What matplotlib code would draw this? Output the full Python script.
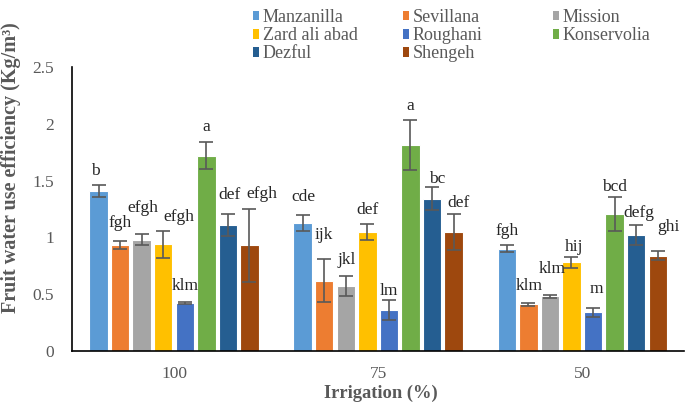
import numpy as np
import matplotlib
matplotlib.use("Agg")
import matplotlib.pyplot as plt
from matplotlib.patches import Patch

plt.rcParams["font.family"] = ["Liberation Serif", "DejaVu Serif"]

# data
groups = ["100", "75", "50"]
cultivars = ["Manzanilla", "Sevillana", "Mission", "Zard ali abad",
             "Roughani", "Konservolia", "Dezful", "Shengeh"]
wue = [
    [1.41, 0.93, 0.98, 0.94, 0.42, 1.72, 1.11, 0.93],   # 100
    [1.13, 0.62, 0.57, 1.05, 0.36, 1.81, 1.34, 1.05],   # 75
    [0.90, 0.41, 0.48, 0.78, 0.34, 1.21, 1.02, 0.84],   # 50
]
err = [
    [0.05, 0.035, 0.05, 0.12, 0.01, 0.12, 0.10, 0.32],
    [0.07, 0.19, 0.09, 0.07, 0.09, 0.22, 0.10, 0.16],
    [0.03, 0.015, 0.01, 0.05, 0.04, 0.15, 0.09, 0.04],
]
letters = [
    ["b", "fgh", "efgh", "efgh", "klm", "a", "def", "efgh"],
    ["cde", "ijk", "jkl", "def", "lm", "a", "bc", "def"],
    ["fgh", "klm", "klm", "hij", "m", "bcd", "defg", "ghi"],
]

colors = ["#5B9BD5", "#ED7D31", "#A5A5A5", "#FFC000",
          "#4472C4", "#70AD47", "#255E91", "#9E480E"]
# where each letter sits relative to the top of its error bar (pixels)
lab_off = [
    [(-3, 14), (0, 18), (1, 26), (16, 14), (0, 16), (0, 15), (2, 19), (12, 15)],
    [(1, 18), (0, 24), (1, 16), (0, 14), (0, 9), (0, 14), (5, 8), (5, 11)],
    [(0, 14), (1, 17), (2, 26), (3, 10), (3, 19), (0, 10), (3, 12), (11, 24)],
]

grey = "#595959"
fig = plt.figure(figsize=(6.85, 4.05), dpi=100)
ax = fig.add_axes([0.105, 0.1333, 0.894, 0.7013])

vals = np.array(wue)
errs = np.array(err)
x = np.arange(len(groups))
n = len(cultivars)
pitch = 0.1056
for i in range(n):
    xi = x + (i - (n - 1) / 2) * pitch
    ax.bar(xi, vals[:, i], width=0.09, color=colors[i], edgecolor="white",
           linewidth=0.8, zorder=2)
    ax.errorbar(xi, vals[:, i], yerr=errs[:, i], fmt="none", ecolor=grey,
                elinewidth=1.2, capsize=5, capthick=1.2, zorder=3)
    for g in range(len(groups)):
        dx, dy = lab_off[g][i]
        ax.annotate(letters[g][i], (xi[g], vals[g, i] + errs[g, i]),
                    xytext=(dx, dy), textcoords="offset pixels",
                    ha="center", va="center", fontsize=12.5, color="#262626")

ax.set_xlim(-0.5, 2.5)
ax.set_ylim(0, 2.5)
ax.set_yticks([0, 0.5, 1, 1.5, 2, 2.5])
ax.set_yticklabels(["0", "0.5", "1", "1.5", "2", "2.5"])
ax.set_xticks(x)
ax.set_xticklabels(groups)
ax.tick_params(axis="both", length=0, labelsize=12.5, labelcolor=grey)
ax.tick_params(axis="x", pad=11)
ax.tick_params(axis="y", pad=13)
for s in ["top", "right"]:
    ax.spines[s].set_visible(False)
ax.spines["left"].set_linewidth(1.2)
ax.spines["bottom"].set_linewidth(1.2)

ax.set_xlabel("Irrigation (%)", fontsize=13.3, fontweight="bold", color=grey)
ax.xaxis.set_label_coords(0.505, -0.118)
ax.set_ylabel("Fruit water use efficiency (Kg/m³)", fontsize=14.5,
              fontweight="bold", color=grey)
ax.yaxis.set_label_coords(-0.083, 0.645)

# legend laid out row by row in three fixed-width columns
handles = [Patch(facecolor=c) for c in colors]
col_x = [253, 403, 553]
for c in range(3):
    idx = list(range(c, n, 3))
    leg = fig.legend([handles[k] for k in idx], [cultivars[k] for k in idx],
                     loc="upper left", bbox_to_anchor=(col_x[c] / 685, 0.978),
                     frameon=False, fontsize=13, labelcolor=grey,
                     handlelength=0.35, handleheight=0.45, handletextpad=0.2,
                     labelspacing=0.07, borderpad=0, borderaxespad=0)

fig.savefig("out.png", dpi=100)
